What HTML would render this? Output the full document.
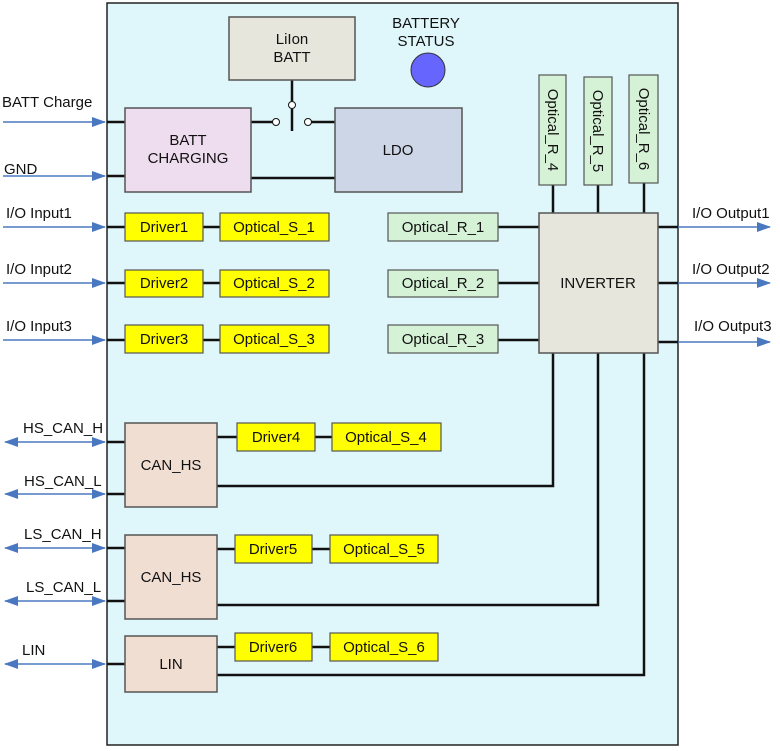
<!DOCTYPE html>
<html><head><meta charset="utf-8"><style>body{margin:0;background:#fff}svg{display:block}text{font-family:"Liberation Sans",sans-serif;font-size:15px;fill:#111}</style></head><body>
<svg width="780" height="751" viewBox="0 0 780 751" xmlns="http://www.w3.org/2000/svg">
<defs>
<marker id="a" markerWidth="14" markerHeight="10" refX="13" refY="5" orient="auto" markerUnits="userSpaceOnUse"><path d="M0,0 L14,5 L0,10 Z" fill="#4a78c0"/></marker>
<marker id="b" markerWidth="14" markerHeight="10" refX="1" refY="5" orient="auto" markerUnits="userSpaceOnUse"><path d="M14,0 L0,5 L14,10 Z" fill="#4a78c0"/></marker>
</defs>
<rect x="107" y="3" width="571" height="742" fill="#dff7fb" stroke="#222" stroke-width="1.5"/>
<g stroke="#111" stroke-width="2.5" fill="none">
<path d="M107 122H125M107 176H125M251 122H274M310 122H335M251 178H335M292 80V101M292 109V131"/>
<path d="M107 227H125M203 227H220M107 283H125M203 283H220M107 340H125M203 340H220"/>
<path d="M498 227H539M498 283H539M498 340H539M553 185V213M598 185V213M644 183V213"/>
<path d="M658 227H678M658 283H678M658 342H678"/>
<path d="M107 442H125M107 494H125M217 437H237M315 437H332M217 486H553V353M107 548H125M107 601H125M217 549H235M312 549H330M217 605H598V353M107 664H125M217 647H235M312 647H330M217 675H644V353"/>
</g>
<circle cx="276" cy="122" r="3.5" fill="#fff" stroke="#111"/><circle cx="308" cy="122" r="3.5" fill="#fff" stroke="#111"/><circle cx="292" cy="105" r="3.5" fill="#fff" stroke="#111"/>
<g stroke="#4a78c0" stroke-width="1.5">
<line x1="3" y1="122" x2="105" y2="122" marker-end="url(#a)"/>
<line x1="3" y1="176" x2="105" y2="176" marker-end="url(#a)"/>
<line x1="3" y1="227" x2="105" y2="227" marker-end="url(#a)"/>
<line x1="3" y1="283" x2="105" y2="283" marker-end="url(#a)"/>
<line x1="3" y1="340" x2="105" y2="340" marker-end="url(#a)"/>
<line x1="678" y1="227" x2="770" y2="227" marker-end="url(#a)"/>
<line x1="678" y1="283" x2="770" y2="283" marker-end="url(#a)"/>
<line x1="678" y1="342" x2="770" y2="342" marker-end="url(#a)"/>
<line x1="5" y1="442" x2="105" y2="442" marker-end="url(#a)" marker-start="url(#b)"/>
<line x1="5" y1="494" x2="105" y2="494" marker-end="url(#a)" marker-start="url(#b)"/>
<line x1="5" y1="548" x2="105" y2="548" marker-end="url(#a)" marker-start="url(#b)"/>
<line x1="5" y1="601" x2="105" y2="601" marker-end="url(#a)" marker-start="url(#b)"/>
<line x1="5" y1="664" x2="105" y2="664" marker-end="url(#a)" marker-start="url(#b)"/>
</g>
<g stroke="#555" stroke-width="1.5">
<rect x="229" y="17" width="126" height="63" fill="#e6e6dc"/>
<rect x="125" y="108" width="126" height="84" fill="#eedcef"/>
<rect x="335" y="108" width="127" height="84" fill="#cdd6e6"/>
<rect x="539" y="213" width="119" height="140" fill="#e6e6dc"/>
<rect x="125" y="423" width="92" height="84" fill="#f1ded3"/>
<rect x="125" y="535" width="92" height="84" fill="#f1ded3"/>
<rect x="125" y="636" width="92" height="56" fill="#f1ded3"/>
</g>
<g stroke="#555" stroke-width="1.2" fill="#ffff00">
<rect x="125" y="213" width="78" height="28"/><rect x="220" y="213" width="109" height="28"/>
<rect x="125" y="270" width="78" height="27"/><rect x="220" y="270" width="109" height="27"/>
<rect x="125" y="325" width="78" height="28"/><rect x="220" y="325" width="109" height="28"/>
<rect x="237" y="423" width="78" height="28"/><rect x="332" y="423" width="109" height="28"/>
<rect x="235" y="535" width="77" height="28"/><rect x="330" y="535" width="108" height="28"/>
<rect x="235" y="633" width="77" height="28"/><rect x="330" y="633" width="108" height="28"/>
</g>
<g stroke="#555" stroke-width="1.2" fill="#d6f2d6">
<rect x="388" y="213" width="110" height="28"/><rect x="388" y="270" width="110" height="27"/><rect x="388" y="325" width="110" height="28"/>
<rect x="539" y="75" width="27" height="110"/><rect x="584" y="77" width="28" height="108"/><rect x="629" y="75" width="29" height="108"/>
</g>
<circle cx="428" cy="70" r="17" fill="#6666ff" stroke="#333"/>
<g text-anchor="middle">
<text x="292" y="44">LiIon</text><text x="292" y="62">BATT</text>
<text x="426" y="28">BATTERY</text><text x="426" y="46">STATUS</text>
<text x="188" y="145">BATT</text><text x="188" y="163">CHARGING</text>
<text x="398" y="155">LDO</text>
<text x="598" y="288">INVERTER</text>
<text x="171" y="470">CAN_HS</text><text x="171" y="582">CAN_HS</text><text x="171" y="669">LIN</text>
<text x="164" y="232">Driver1</text><text x="274" y="232">Optical_S_1</text>
<text x="164" y="288">Driver2</text><text x="274" y="288">Optical_S_2</text>
<text x="164" y="344">Driver3</text><text x="274" y="344">Optical_S_3</text>
<text x="276" y="442">Driver4</text><text x="386" y="442">Optical_S_4</text>
<text x="273" y="554">Driver5</text><text x="384" y="554">Optical_S_5</text>
<text x="273" y="652">Driver6</text><text x="384" y="652">Optical_S_6</text>
<text x="443" y="232">Optical_R_1</text><text x="443" y="288">Optical_R_2</text><text x="443" y="344">Optical_R_3</text>
<text transform="translate(548,130) rotate(90)">Optical_R_4</text>
<text transform="translate(593,131) rotate(90)">Optical_R_5</text>
<text transform="translate(639,129) rotate(90)">Optical_R_6</text>
</g>
<text x="2" y="107">BATT Charge</text><text x="4" y="174">GND</text>
<text x="6" y="218">I/O Input1</text><text x="6" y="274">I/O Input2</text><text x="6" y="331">I/O Input3</text>
<text x="692" y="218">I/O Output1</text><text x="692" y="274">I/O Output2</text><text x="694" y="331">I/O Output3</text>
<text x="23" y="433">HS_CAN_H</text><text x="24" y="486">HS_CAN_L</text>
<text x="24" y="539">LS_CAN_H</text><text x="26" y="592">LS_CAN_L</text><text x="22" y="655">LIN</text>
</svg>
</body></html>
